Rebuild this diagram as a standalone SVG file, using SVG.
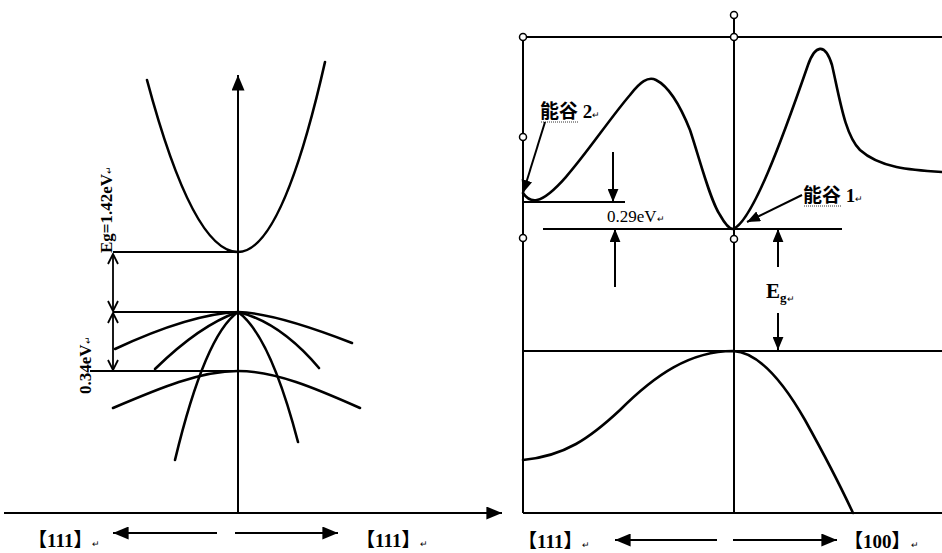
<svg xmlns="http://www.w3.org/2000/svg" width="942" height="553" viewBox="0 0 942 553">
<defs>
<style>
.ln{stroke:#000;stroke-width:2;fill:none}
.cv{stroke:#000;stroke-width:2.6;fill:none;stroke-linecap:round}
.dbl{stroke:#000;stroke-width:1.8;fill:none;marker-start:url(#chevS);marker-end:url(#chev)}
.dot{fill:#fff;stroke:#000;stroke-width:1.5}
.t{font-family:"Liberation Serif","Noto Sans CJK SC",serif;font-weight:bold;fill:#000}
.n{font-weight:normal}
.pm{font-size:9px;font-weight:normal}
.wv{stroke:#000;stroke-width:0.8;stroke-dasharray:1 1;fill:none}
</style>
<marker id="tri" viewBox="0 0 12 10" refX="12" refY="5" markerWidth="13" markerHeight="11" markerUnits="userSpaceOnUse" orient="auto"><path d="M0,0 L12,5 L0,10 z" fill="#000"/></marker>
<marker id="triB" viewBox="0 0 12 10" refX="12" refY="5" markerWidth="16" markerHeight="13" markerUnits="userSpaceOnUse" orient="auto"><path d="M0,0 L12,5 L0,10 z" fill="#000"/></marker>
<marker id="chev" viewBox="0 0 12 12" refX="11" refY="6" markerWidth="12" markerHeight="12" markerUnits="userSpaceOnUse" orient="auto"><path d="M1,1 L11,6 L1,11" fill="none" stroke="#000" stroke-width="1.8"/></marker>
<marker id="chevS" viewBox="0 0 12 12" refX="1" refY="6" markerWidth="12" markerHeight="12" markerUnits="userSpaceOnUse" orient="auto"><path d="M11,1 L1,6 L11,11" fill="none" stroke="#000" stroke-width="1.8"/></marker>
</defs>
<rect width="942" height="553" fill="#fff"/>

<g id="left-panel">
<path class="cv" d="M147,80 Q193,252 238,252 Q282,252 325,62"/>
<path class="ln" d="M113,252 H238 M113,312 H238 M90,371 H238"/>
<path class="cv" d="M238,312 Q190,314 115,349"/>
<path class="cv" d="M238,312 Q275,313 352,343"/>
<path class="cv" d="M238,312 Q200,325 155,369"/>
<path class="cv" d="M238,312 Q280,322 319,368"/>
<path class="cv" d="M238,312 Q205,335 175,460"/>
<path class="cv" d="M238,312 Q270,335 298,442"/>
<path class="cv" d="M113,408 C160,388 200,371 238,371 C275,371 315,388 360,408"/>
</g>

<g id="right-panel">
<path class="ln" d="M523,37 V513 M523,37 H942 M523,513 H942 M523,351 H942 M734,15 V513"/>
<path class="ln" d="M523,202 H625 M543,229 H842"/>
<path class="cv" d="M523,193 C527,199 532,201 537,200 C560,195 600,130 630,95 C640,82 648,76 656,80 C668,86 680,105 690,130 C700,160 710,200 720,215 C725,224 729,229 733,229 C752,222 782,140 808,65 C815,45 825,42 832,65 C840,100 845,135 860,150 C880,168 910,170 942,172"/>
<path class="cv" d="M523,460 C565,456 590,438 620,410 C655,375 690,351 733,351 C760,352 785,385 805,420 C820,447 840,485 853,513"/>
<circle class="dot" cx="523" cy="37" r="3.5"/>
<circle class="dot" cx="523" cy="137" r="3.5"/>
<circle class="dot" cx="523" cy="238" r="3.5"/>
<circle class="dot" cx="734" cy="37" r="3.5"/>
<circle class="dot" cx="734" cy="15" r="3.5"/>
<circle class="dot" cx="734" cy="239" r="3.5"/>
</g>

<g id="connectors">
<line class="ln" x1="238" y1="513" x2="238" y2="75" marker-end="url(#triB)"/>
<line class="ln" x1="4" y1="513" x2="502" y2="513" marker-end="url(#triB)"/>
<line class="dbl" x1="113" y1="254" x2="113" y2="311"/>
<line class="dbl" x1="113" y1="313" x2="113" y2="370"/>
<line class="ln" x1="217" y1="533" x2="113" y2="533" marker-end="url(#triB)"/>
<line class="ln" x1="235" y1="533" x2="338" y2="533" marker-end="url(#triB)"/>
<line class="ln" x1="717" y1="540" x2="615" y2="540" marker-end="url(#triB)"/>
<line class="ln" x1="733" y1="540" x2="837" y2="540" marker-end="url(#triB)"/>
<line class="ln" x1="545" y1="122" x2="523" y2="193" marker-end="url(#tri)"/>
<line class="ln" x1="802" y1="195" x2="747" y2="222" marker-end="url(#tri)"/>
<line class="ln" x1="613" y1="152" x2="613" y2="202" marker-end="url(#tri)"/>
<line class="ln" x1="615" y1="287" x2="615" y2="229" marker-end="url(#tri)"/>
<line class="ln" x1="778" y1="267" x2="778" y2="229" marker-end="url(#tri)"/>
<line class="ln" x1="778" y1="313" x2="778" y2="350" marker-end="url(#tri)"/>
</g>

<g id="labels">
<text class="t" font-size="17" transform="translate(112,253) rotate(-90)">Eg=1.42eV<tspan class="pm">↵</tspan></text>
<text class="t" font-size="17" transform="translate(91,394) rotate(-90)">0.34eV<tspan class="pm">↵</tspan></text>
<text class="t" font-size="19" x="540" y="118">能谷 2<tspan class="pm">↵</tspan></text>
<path class="wv" d="M541,122 H579"/>
<text class="t" font-size="19" x="803" y="202">能谷 1<tspan class="pm">↵</tspan></text>
<path class="wv" d="M804,206 H842"/>
<text class="t n" font-size="17" x="607" y="222">0.29eV<tspan class="pm">↵</tspan></text>
<text class="t" font-size="21" x="766" y="298">E<tspan font-size="13" dy="4">g</tspan><tspan class="pm">↵</tspan></text>
<text class="t" font-size="19" x="28" y="547">【111】<tspan class="pm">↵</tspan></text>
<text class="t" font-size="19" x="356" y="547">【111】<tspan class="pm">↵</tspan></text>
<text class="t" font-size="19" x="518" y="548">【111】<tspan class="pm">↵</tspan></text>
<text class="t" font-size="19" x="844" y="548">【100】<tspan class="pm">↵</tspan></text>
</g>
</svg>
